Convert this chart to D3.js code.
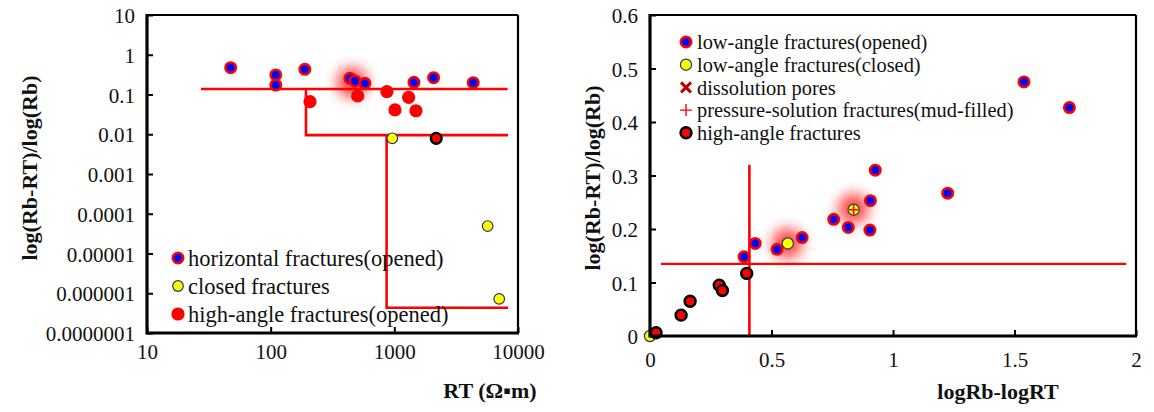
<!DOCTYPE html>
<html>
<head>
<meta charset="utf-8">
<script src="https://cdn.jsdelivr.net/npm/d3@7"></script>
<style>
  body { margin: 0; background: #fff; }
  svg text { font-family: "Liberation Serif", "Times New Roman", Tinos, "DejaVu Serif", serif; fill: #111; }
</style>
</head>
<body>
<div id="chart"></div>
<script>
// ---- left chart data (RT vs log ratio) ----
var leftOpenRT    = [47.5, 110, 110, 189, 437, 480, 578, 1441, 2078, 4345];
var leftOpenVal   = [0.473, 0.31, 0.173, 0.43, 0.255, 0.219, 0.191, 0.202, 0.265, 0.198];
var leftClosedRT  = [962, 5680, 7050];
var leftClosedVal = [0.0079, 0.000049, 0.00000072];
var leftHighRT    = [208, 505, 871, 1305, 1012, 1496];
var leftHighVal   = [0.066, 0.092, 0.118, 0.085, 0.041, 0.039];
var leftOtherRT   = [2182];
var leftOtherVal  = [0.0079];
var leftGlow      = [[455, 0.2]];
// step boundary line
var leftStepRT    = [27.3, 8240, null, 193, 193, 8300, null, 866, 866, 8300];
var leftStepVal   = [0.137, 0.137, null, 0.137, 0.0095, 0.0095, null, 0.0095, 0.00000043, 0.00000043];
var leftXTicks    = [10, 100, 1000, 10000];
var leftYTicks    = [10, 1, 0.1, 0.01, 0.001, 0.0001, 0.00001, 0.000001, 0.0000001];
var leftYLabels   = ["10", "1", "0.1", "0.01", "0.001", "0.0001", "0.00001", "0.000001", "0.0000001"];
var leftLegend    = ["horizontal fractures(opened)", "closed fractures", "high-angle fractures(opened)"];

// ---- right chart data ----
var rightOpenX   = [0.927, 1.225, 0.907, 0.756, 0.816, 0.905, 0.626, 0.523, 0.433, 0.387, 1.539, 1.726];
var rightOpenY   = [0.310, 0.267, 0.253, 0.218, 0.203, 0.198, 0.184, 0.162, 0.173, 0.148, 0.475, 0.427];
var rightClosedX = [0.0, 0.567, 0.838];
var rightClosedY = [0.0, 0.173, 0.236];
var rightPlusX   = [0.838];
var rightPlusY   = [0.236];
var rightHighX   = [0.025, 0.128, 0.165, 0.285, 0.298, 0.398];
var rightHighY   = [0.006, 0.039, 0.065, 0.095, 0.085, 0.117];
var rightGlow    = [[0.565, 0.173], [0.837, 0.238]];
var rightVLine   = [0.409, 0, 0.32];   // x, y0, y1
var rightHLine   = [0.135, 0.045, 1.96]; // y, x0, x1
var rightXTicks  = [0, 0.5, 1, 1.5, 2];
var rightYTicks  = [0, 0.1, 0.2, 0.3, 0.4, 0.5, 0.6];
var rightLegend  = ["low-angle fractures(opened)", "low-angle fractures(closed)", "dissolution pores",
                    "pressure-solution fractures(mud-filled)", "high-angle fractures"];

var FONT = '"Liberation Serif", "Times New Roman", Tinos, "DejaVu Serif", serif';

var svg = d3.select("#chart").append("svg")
  .attr("width", 1154).attr("height", 412)
  .attr("font-family", FONT);

var defs = svg.append("defs");
defs.append("filter").attr("id", "glow")
  .attr("x", "-100%").attr("y", "-100%").attr("width", "300%").attr("height", "300%")
  .append("feGaussianBlur").attr("stdDeviation", 7);

var zip = function(a, b){ return a.map(function(d, i){ return [d, b[i]]; }); };

var drawFrame = function(g, w, h){
  g.append("line").attr("x1", 0).attr("x2", w).attr("y1", 0).attr("y2", 0)
    .style("stroke", "#000").style("stroke-width", 2);
  g.append("line").attr("x1", w).attr("x2", w).attr("y1", 0).attr("y2", h)
    .style("stroke", "#000").style("stroke-width", 2.2);
  g.append("line").attr("x1", 0).attr("x2", w + 1).attr("y1", h).attr("y2", h)
    .style("stroke", "#000").style("stroke-width", 3.2);
  g.append("line").attr("x1", 0).attr("x2", 0).attr("y1", -1).attr("y2", h + 1.5)
    .style("stroke", "#000").style("stroke-width", 3.2);
};

var styleAxis = function(ax){
  ax.attr("font-family", FONT);
  ax.select(".domain").remove();
  ax.selectAll(".tick line").style("stroke", "#000").style("stroke-width", 2);
  ax.selectAll(".tick text").style("font-size", "21px")
    .style("font-family", FONT).style("fill", "#111");
};

// ================= LEFT CHART =================
var L = { left: 147, top: 15, w: 371, h: 318 };
var gl = svg.append("g").attr("transform", "translate(" + L.left + "," + L.top + ")");
var lx = d3.scaleLog().domain([10, 10000]).range([0, L.w]);
var ly = d3.scaleLog().domain([0.0000001, 10]).range([L.h, 0]);

var axLX = gl.append("g").attr("transform", "translate(0," + L.h + ")")
  .call(d3.axisBottom(lx).tickValues(leftXTicks).tickFormat(d3.format("d")).tickSize(-6).tickPadding(11));
styleAxis(axLX);
var axLY = gl.append("g")
  .call(d3.axisLeft(ly).tickValues(leftYTicks).tickFormat(function(d, i){ return leftYLabels[i]; })
    .tickSize(-6).tickPadding(12));
styleAxis(axLY);
axLY.selectAll(".tick text").attr("dy", "0.36em");

gl.selectAll(".glow").data(leftGlow).enter().append("circle")
  .attr("cx", function(d){ return lx(d[0]); }).attr("cy", function(d){ return ly(d[1]); })
  .attr("r", 15).attr("filter", "url(#glow)")
  .style("fill", "#ff0000").style("opacity", 0.75);

var stepLine = d3.line()
  .defined(function(d){ return d[0] != null; })
  .x(function(d){ return lx(d[0]); }).y(function(d){ return ly(d[1]); });
gl.append("path").datum(zip(leftStepRT, leftStepVal))
  .attr("d", stepLine)
  .style("fill", "none").style("stroke", "#ff0000").style("stroke-width", 2.6);

gl.selectAll(".lopen").data(zip(leftOpenRT, leftOpenVal)).enter().append("circle")
  .attr("cx", function(d){ return lx(d[0]); }).attr("cy", function(d){ return ly(d[1]); })
  .attr("r", 5.2).style("fill", "#0000ff").style("stroke", "#ff0000").style("stroke-width", 2.6);
gl.selectAll(".lhigh").data(zip(leftHighRT, leftHighVal)).enter().append("circle")
  .attr("cx", function(d){ return lx(d[0]); }).attr("cy", function(d){ return ly(d[1]); })
  .attr("r", 6.6).style("fill", "#ff0000");
gl.selectAll(".lother").data(zip(leftOtherRT, leftOtherVal)).enter().append("circle")
  .attr("cx", function(d){ return lx(d[0]); }).attr("cy", function(d){ return ly(d[1]); })
  .attr("r", 5.4).style("fill", "#ff0000").style("stroke", "#000").style("stroke-width", 2.4);
gl.selectAll(".lclosed").data(zip(leftClosedRT, leftClosedVal)).enter().append("circle")
  .attr("cx", function(d){ return lx(d[0]); }).attr("cy", function(d){ return ly(d[1]); })
  .attr("r", 5.3).style("fill", "#ffff00").style("stroke", "#1f3864").style("stroke-width", 1.2);

drawFrame(gl, L.w, L.h);

// left legend
var lleg = svg.append("g").attr("transform", "translate(178,258)");
lleg.selectAll("text").data(leftLegend).enter().append("text")
  .attr("x", 10).attr("y", function(d, i){ return i * 28; }).attr("dy", "0.35em")
  .style("font-size", "22.5px").text(function(d){ return d; });
lleg.append("circle").attr("cx", 0).attr("cy", 0).attr("r", 5.2)
  .style("fill", "#0000ff").style("stroke", "#ff0000").style("stroke-width", 2.6);
lleg.append("circle").attr("cx", 0).attr("cy", 28).attr("r", 5.3)
  .style("fill", "#ffff00").style("stroke", "#1f3864").style("stroke-width", 1.2);
lleg.append("circle").attr("cx", 0).attr("cy", 56).attr("r", 6.6)
  .style("fill", "#ff0000");

svg.append("text").attr("x", 490).attr("y", 390).attr("dy", "0.35em")
  .attr("text-anchor", "middle").style("font-size", "22px").style("font-weight", "bold")
  .text("RT (Ω▪m)");
svg.append("text").attr("transform", "translate(29,168) rotate(-90)").attr("dy", "0.35em")
  .attr("text-anchor", "middle").style("font-size", "22px").style("font-weight", "bold")
  .text("log(Rb-RT)/log(Rb)");

// ================= RIGHT CHART =================
var R = { left: 650, top: 15, w: 486, h: 321 };
var gr = svg.append("g").attr("transform", "translate(" + R.left + "," + R.top + ")");
var rx = d3.scaleLinear().domain([0, 2]).range([0, R.w]);
var ry = d3.scaleLinear().domain([0, 0.6]).range([R.h, 0]);

var axRX = gr.append("g").attr("transform", "translate(0," + R.h + ")")
  .call(d3.axisBottom(rx).tickValues(rightXTicks).tickFormat(function(d){ return String(d); })
    .tickSize(-6).tickPadding(16));
styleAxis(axRX);
var axRY = gr.append("g")
  .call(d3.axisLeft(ry).tickValues(rightYTicks).tickFormat(function(d){ return String(d); })
    .tickSize(-6).tickPadding(12));
styleAxis(axRY);
axRY.selectAll(".tick text").attr("dy", "0.36em");

gr.selectAll(".glow").data(rightGlow).enter().append("circle")
  .attr("cx", function(d){ return rx(d[0]); }).attr("cy", function(d){ return ry(d[1]); })
  .attr("r", 15).attr("filter", "url(#glow)")
  .style("fill", "#ff0000").style("opacity", 0.75);

gr.append("line")
  .attr("x1", rx(rightVLine[0])).attr("x2", rx(rightVLine[0]))
  .attr("y1", ry(rightVLine[1])).attr("y2", ry(rightVLine[2]))
  .style("stroke", "#ff0000").style("stroke-width", 2.6);
gr.append("line")
  .attr("x1", rx(rightHLine[1])).attr("x2", rx(rightHLine[2]))
  .attr("y1", ry(rightHLine[0])).attr("y2", ry(rightHLine[0]))
  .style("stroke", "#ff0000").style("stroke-width", 2.2);

gr.selectAll(".ropen").data(zip(rightOpenX, rightOpenY)).enter().append("circle")
  .attr("cx", function(d){ return rx(d[0]); }).attr("cy", function(d){ return ry(d[1]); })
  .attr("r", 5.2).style("fill", "#0000ff").style("stroke", "#ff0000").style("stroke-width", 2.6);
gr.selectAll(".rclosed").data(zip(rightClosedX, rightClosedY)).enter().append("circle")
  .attr("cx", function(d){ return rx(d[0]); }).attr("cy", function(d){ return ry(d[1]); })
  .attr("r", 5.6).style("fill", "#ffff00").style("stroke", "#1f3864").style("stroke-width", 1.2);
gr.selectAll(".rhigh").data(zip(rightHighX, rightHighY)).enter().append("circle")
  .attr("cx", function(d){ return rx(d[0]); }).attr("cy", function(d){ return ry(d[1]); })
  .attr("r", 5.4).style("fill", "#ff0000").style("stroke", "#000").style("stroke-width", 2.6);
gr.selectAll(".rplus").data(zip(rightPlusX, rightPlusY)).enter().append("path")
  .attr("transform", function(d){ return "translate(" + rx(d[0]) + "," + ry(d[1]) + ")"; })
  .attr("d", "M-5,0H5M0,-5V5")
  .style("stroke", "#ff0000").style("stroke-width", 1.6);

drawFrame(gr, R.w, R.h);

// right legend
var rleg = svg.append("g").attr("transform", "translate(686,42)");
var rowGap = 22.7;
rleg.selectAll("text").data(rightLegend).enter().append("text")
  .attr("x", 11).attr("y", function(d, i){ return i * rowGap; }).attr("dy", "0.35em")
  .style("font-size", "20.4px").text(function(d){ return d; });
rleg.append("circle").attr("cx", 0).attr("cy", 0).attr("r", 5.2)
  .style("fill", "#0000ff").style("stroke", "#ff0000").style("stroke-width", 2.6);
rleg.append("circle").attr("cx", 0).attr("cy", rowGap).attr("r", 5.6)
  .style("fill", "#ffff00").style("stroke", "#1f3864").style("stroke-width", 1.2);
rleg.append("path").attr("transform", "translate(0," + (2 * rowGap) + ")")
  .attr("d", "M-5,-5L5,5M5,-5L-5,5")
  .style("stroke", "#c00000").style("stroke-width", 3);
rleg.append("path").attr("transform", "translate(0," + (3 * rowGap) + ")")
  .attr("d", "M-6,0H6M0,-6V6")
  .style("stroke", "#ff0000").style("stroke-width", 1.4);
rleg.append("circle").attr("cx", 0).attr("cy", 4 * rowGap).attr("r", 5.4)
  .style("fill", "#ff0000").style("stroke", "#000").style("stroke-width", 2.6);

svg.append("text").attr("x", 998).attr("y", 391).attr("dy", "0.35em")
  .attr("text-anchor", "middle").style("font-size", "22px").style("font-weight", "bold")
  .text("logRb-logRT");
svg.append("text").attr("transform", "translate(592,178) rotate(-90)").attr("dy", "0.35em")
  .attr("text-anchor", "middle").style("font-size", "22px").style("font-weight", "bold")
  .text("log(Rb-RT)/log(Rb)");
</script>
</body>
</html>
